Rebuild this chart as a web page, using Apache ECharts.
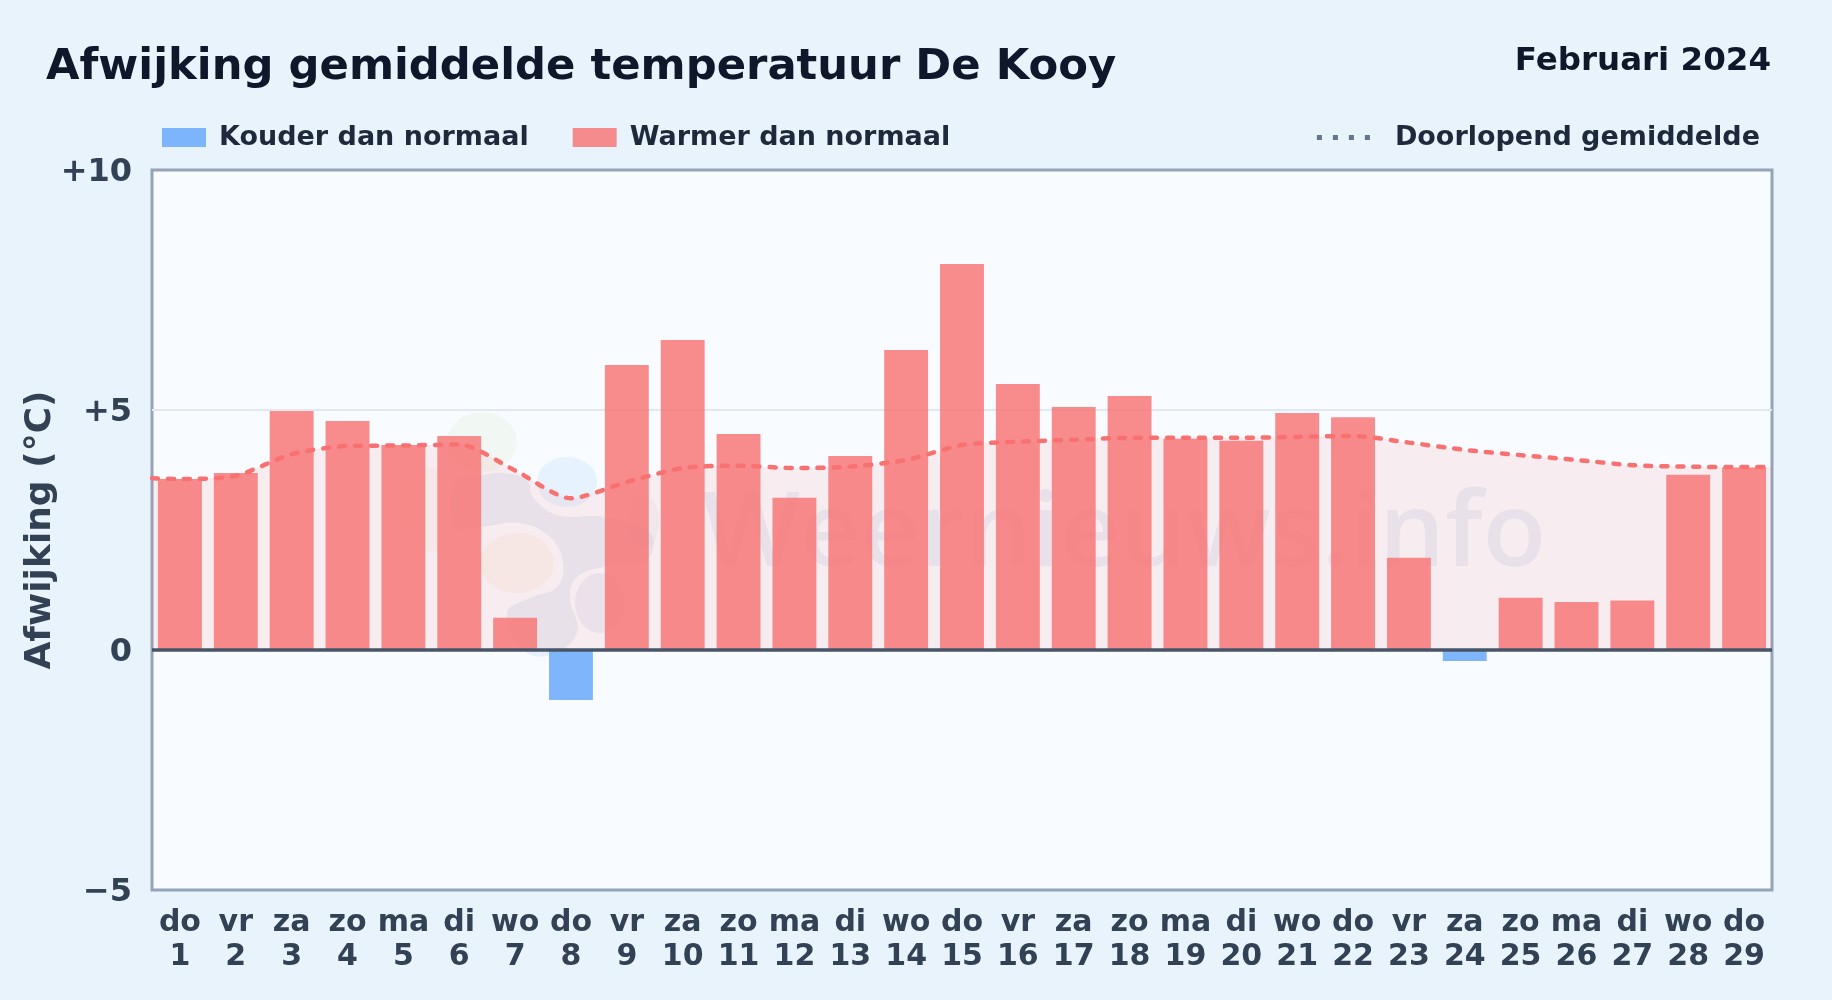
<!DOCTYPE html>
<html><head><meta charset="utf-8">
<style>html,body{margin:0;padding:0;background:#e9f3fc}#c{width:1832px;height:1000px}</style>
<script src="https://cdn.jsdelivr.net/npm/echarts@6/dist/echarts.min.js"></script>
</head><body><div id="c"></div>
<script>
const weekdays = ['do','vr','za','zo','ma','di','wo','do','vr','za','zo','ma','di','wo','do','vr','za','zo','ma','di','wo','do','vr','za','zo','ma','di','wo','do'];
const dayNumbers = [1,2,3,4,5,6,7,8,9,10,11,12,13,14,15,16,17,18,19,20,21,22,23,24,25,26,27,28,29];
const deviations = [3.56,3.69,4.98,4.77,4.27,4.46,0.67,-1.04,5.94,6.46,4.5,3.17,4.04,6.25,8.04,5.54,5.06,5.29,4.4,4.36,4.94,4.85,1.92,-0.23,1.09,1.0,1.03,3.65,3.8];
const runningMean = [3.56,3.63,4.08,4.25,4.26,4.28,3.74,3.16,3.5,3.79,3.84,3.79,3.82,3.96,4.27,4.34,4.38,4.42,4.42,4.42,4.44,4.46,4.32,4.17,4.06,3.96,3.85,3.82,3.81];
const meanAtLeftEdge = 3.58, meanAtRightEdge = 3.81;
const yTicks = {'10':'+10','5':'+5','0':'0','-5':'\u22125'};
const FONT = '"DejaVu Sans"';

const categories = weekdays.map((d,i)=>d+'\n'+dayNumbers[i]);
const warm = deviations.map(v=>v>=0?v:null);
const cold = deviations.map(v=>v<0?v:null);
const meanLine = [[0.5,meanAtLeftEdge]].concat(runningMean.map((v,i)=>[dayNumbers[i],v]),[[29.5,meanAtRightEdge]]);

const wm = 'rgba(40,100,160,0.08)';
const tickStyle = {fontFamily:FONT,fontWeight:'bold',fontSize:32,color:'#334155'};
const chart = echarts.init(document.getElementById('c'),null,{renderer:'canvas'});
chart.setOption({
  animation:false,
  backgroundColor:'#e9f3fc',
  title:[
    {text:'Afwijking gemiddelde temperatuur De Kooy',left:46,top:46,padding:0,textStyle:{fontFamily:FONT,fontWeight:'bold',fontSize:43.3,color:'#0f172a'}},
    {text:'Februari 2024',right:61,top:45,padding:0,textStyle:{fontFamily:FONT,fontWeight:'bold',fontSize:32.5,color:'#0f172a'}}
  ],
  legend:[
    {left:162,top:124,padding:0,icon:'rect',itemWidth:44,itemHeight:19,itemGap:44,data:['Kouder dan normaal','Warmer dan normaal'],
     textStyle:{fontFamily:FONT,fontWeight:'bold',fontSize:27,color:'#1e293b',padding:[2,0,0,8]},selectedMode:false},
    {right:72,top:124,padding:0,itemWidth:56,itemHeight:19,data:['Doorlopend gemiddelde'],
     lineStyle:{color:'#64748b',width:5,type:[5,11],cap:'butt'},itemStyle:{opacity:0},
     textStyle:{fontFamily:FONT,fontWeight:'bold',fontSize:27,color:'#1e293b',padding:[2,0,0,17]},selectedMode:false}
  ],
  grid:{left:152,right:60,top:170,height:720,show:true,backgroundColor:'#f8fbff',borderColor:'#94a3b8',borderWidth:3,containLabel:false},
  xAxis:[
    {type:'category',data:categories,position:'bottom',axisLine:{show:false},axisTick:{show:false},
     axisLabel:{interval:0,margin:16,fontFamily:FONT,fontWeight:'bold',fontSize:30,lineHeight:34,color:'#334155'}},
    {type:'value',min:0.5,max:29.5,show:false,splitLine:{show:false}}
  ],
  yAxis:{type:'value',min:-5,max:10,interval:5,axisLine:{show:false},axisTick:{show:false},
    name:'Afwijking (°C)',nameLocation:'middle',nameGap:93,nameMoveOverlap:false,nameTextStyle:{fontFamily:FONT,fontWeight:'bold',fontSize:36,color:'#334155'},
    splitLine:{showMinLine:false,showMaxLine:false,lineStyle:{color:'#e2e8f0',width:2}},
    axisLabel:Object.assign({margin:20,formatter:v=>'{t|'+yTicks[String(v)]+'}',rich:{t:Object.assign({padding:[5,0,0,0]},tickStyle)}},tickStyle)},
  series:[
    {name:'Kouder dan normaal',type:'bar',data:cold,barWidth:'78.6%',barGap:'-100%',itemStyle:{color:'rgba(96,165,250,0.8)'},z:3},
    {name:'Warmer dan normaal',type:'bar',data:warm,barWidth:'78.6%',barGap:'-100%',itemStyle:{color:'rgba(248,113,113,0.8)'},z:3,
     markLine:{silent:true,symbol:'none',label:{show:false},lineStyle:{color:'#475569',width:3.5,type:'solid'},data:[{yAxis:0}],z:6}},
    {name:'Doorlopend gemiddelde',type:'line',xAxisIndex:1,data:meanLine,showSymbol:false,smooth:0.25,
     lineStyle:{color:'#f87171',width:4.5,type:[6,10],cap:'round'},itemStyle:{color:'#f87171'},
     areaStyle:{color:'rgba(248,113,113,0.15)'},z:2}
  ],
  graphic:[
    {type:'group',silent:true,z:50,children:[
      {type:'ellipse',shape:{cx:482,cy:442,rx:35,ry:30},style:{fill:'rgba(130,200,60,0.06)'}},
      {type:'ellipse',shape:{cx:567,cy:482,rx:30,ry:25},style:{fill:'rgba(56,170,240,0.09)'}},
      {type:'ellipse',shape:{cx:430,cy:510,rx:28,ry:42},style:{fill:'rgba(230,170,90,0.05)'}},
      {type:'ellipse',shape:{cx:517,cy:563,rx:37,ry:30},style:{fill:'rgba(230,170,90,0.07)'}},
      {type:'ellipse',shape:{cx:600,cy:603,rx:25,ry:30},style:{fill:'rgba(60,90,180,0.07)'}},
      {type:'ellipse',shape:{cx:643,cy:522,rx:16,ry:28},style:{fill:'rgba(60,90,180,0.04)'}},
      {type:'polygon',shape:{smooth:0.4,points:[[483,475],[503,473],[527,480],[533,497],[557,515],[603,517],[650,533],[647,560],[603,567],[577,577],[570,597],[577,633],[550,655],[523,650],[507,613],[530,598],[557,587],[563,563],[550,537],[520,523],[480,527],[455,527],[455,483]]},style:{fill:wm}},
      {type:'text',style:{text:'Weernieuws.info',x:702,y:588,textVerticalAlign:'bottom',font:'600 104px "Open Sans"',fill:wm}}
    ]}
  ]
});
</script></body></html>
